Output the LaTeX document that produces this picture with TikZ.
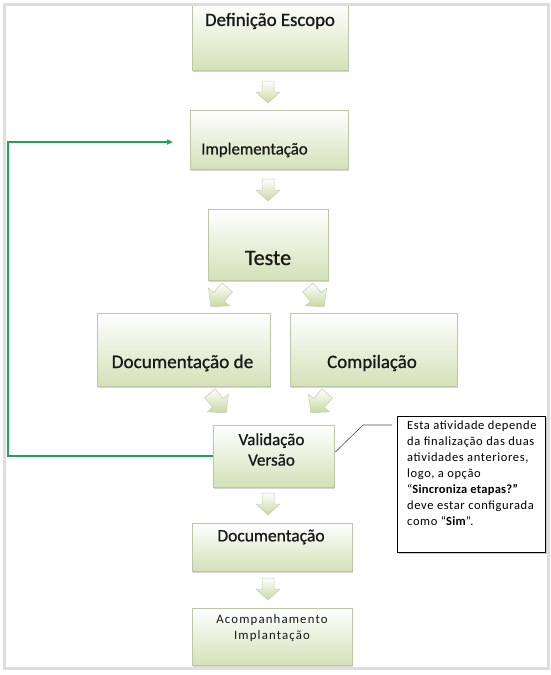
\documentclass[tikz,border=0pt]{standalone}
\usepackage{fontspec}
\setmainfont{Carlito}
\newfontface\heavyface{Carlito}[FakeBold=0.9]
\newfontface\notefont{Carlito}[LetterSpace=5]
\newfontface\notebold{Carlito Bold}[LetterSpace=2]
\newfontface\smallface{Carlito}[LetterSpace=9]
\usetikzlibrary{arrows.meta,shadows,calc}
\definecolor{boxbot}{RGB}{212,225,184}
\definecolor{boxedge}{RGB}{188,198,168}
\definecolor{arrowfill}{RGB}{200,216,160}
\definecolor{arrowedge}{RGB}{196,206,176}
\definecolor{loopgreen}{RGB}{35,160,90}
\definecolor{framegray}{RGB}{222,222,222}
\begin{document}
\begin{tikzpicture}[x=1pt,y=-1pt,
  stepbox/.style={rectangle, draw=boxedge, line width=0.6pt, top color=white, bottom color=boxbot,
    inner sep=0pt, drop shadow={shadow xshift=1.2pt, shadow yshift=-1.5pt, opacity=0.35, fill=black!45}},
  lbl/.style={inner sep=0pt, align=center, text=black!90},
  barrow/.pic={\shade[top color=white, bottom color=arrowfill, draw=arrowedge, line width=0.5pt]
     (-6,-11) -- (6,-11) -- (6,0) -- (12,0) -- (0,11) -- (-12,0) -- (-6,0) -- cycle;}
]
\useasboundingbox (0,0) rectangle (550,675);
\fill[white] (0,0) rectangle (550,675);

% boxes
\node[stepbox, minimum width=156pt, minimum height=67pt] (def) at (270,36.5) {};
\node[stepbox, minimum width=158pt, minimum height=59pt] (impl) at (269,139.5) {};
\node[stepbox, minimum width=120pt, minimum height=71pt] (teste) at (268,244.5) {};
\node[stepbox, minimum width=173pt, minimum height=73pt] (doc) at (183.5,349.5) {};
\node[stepbox, minimum width=167pt, minimum height=73pt] (comp) at (373.5,349.5) {};
\node[stepbox, minimum width=121pt, minimum height=62pt] (val) at (273.5,456) {};
\node[stepbox, minimum width=160pt, minimum height=48pt] (docm) at (272,547) {};
\node[stepbox, minimum width=160pt, minimum height=57pt] (acomp) at (272,636.5) {};

% labels
\node[lbl, font=\heavyface\fontsize{18.8}{22}\selectfont] (tdef) at (270,21) {Definição Escopo};
\node[lbl, anchor=west, font=\heavyface\fontsize{16.8}{20}\selectfont] (timpl) at (201,150) {Implementação};
\node[lbl, font=\heavyface\fontsize{22}{26}\selectfont] (tteste) at (268,258) {Teste};
\node[lbl, font=\heavyface\fontsize{19.2}{23}\selectfont] (tdoc) at (182.5,363) {Documentação de};
\node[lbl, font=\heavyface\fontsize{18.9}{23}\selectfont] (tcomp) at (372,363) {Compilação};
\node[lbl, font=\heavyface\fontsize{17}{20.5}\selectfont] (tval) at (271.5,449.5) {Validação\\Versão};
\node[lbl, font=\heavyface\fontsize{17.5}{21}\selectfont] (tdocm) at (271,537) {Documentação};
\node[lbl, font=\smallface\fontsize{12.8}{16}\selectfont] (tacomp) at (272,628) {Acompanhamento\\Implantação};

% block arrows
\pic at (268,92) {barrow};
\pic at (268,190) {barrow};
\pic[rotate=-40, scale=1.15] at (219,297) {barrow};
\pic[rotate=40, scale=1.15] at (316,297) {barrow};
\pic[rotate=40, scale=1.15] at (218,403) {barrow};
\pic[rotate=-40, scale=1.15] at (319,403) {barrow};
\pic at (268,504) {barrow};
\pic at (268,589) {barrow};

% loop back connector
\coordinate (loopx) at (8,0);
\coordinate (loopend) at (173,142);
\draw[loopgreen, line width=1.8pt, -{Triangle[length=6pt,width=5pt]}]
  (val.west) -- (val.west -| loopx) |- (loopend);

% note
\node[rectangle, draw=black, line width=0.7pt, fill=white, minimum width=148pt, minimum height=136pt,
  inner sep=0pt, drop shadow={shadow xshift=1.5pt, shadow yshift=-1.5pt, opacity=0.4, fill=black!50}] (note) at (471,484) {};
\node[anchor=north west, align=left, inner sep=0pt, font=\notefont\fontsize{12.5}{16}\selectfont] (notetxt) at (407,421)
  {Esta atividade depende\\da finalização das duas\\atividades anteriores,\\logo, a opção\\%
   “{\notebold Sincroniza etapas?”}\\deve estar configurada\\como “{\notebold Sim}”.};
\coordinate (cbend) at (363,425);
\coordinate (cend) at (392,425);
\draw[black!70, line width=0.6pt] ($(val.east)+(1,-4)$) -- (cbend) -- (cend);

% page frame
\draw[framegray, line width=3pt] (4,4) rectangle (548,668);
\end{tikzpicture}
\end{document}
